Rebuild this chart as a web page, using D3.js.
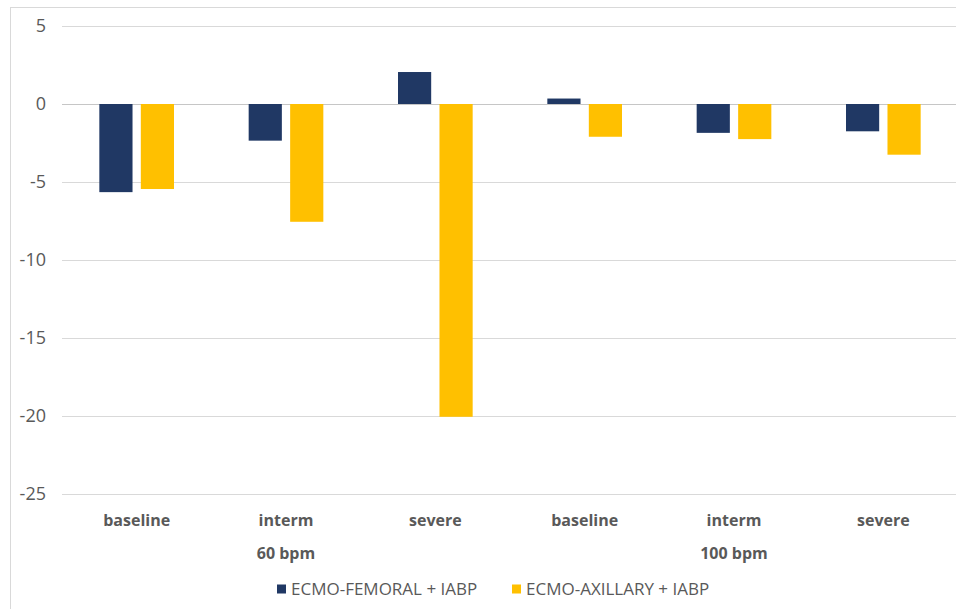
<!DOCTYPE html>
<html>
<head>
<meta charset="utf-8">
<script src="https://cdn.jsdelivr.net/npm/d3@7"></script>
<style>
  body { margin: 0; background: #fff; }
  svg { display: block; }
  text { font-family: "Open Sans", sans-serif; fill: #595959; }
</style>
</head>
<body>
<div id="chart"></div>
<script>
var categories = ["baseline", "interm", "severe", "baseline", "interm", "severe"];
var groups = ["60 bpm", "100 bpm"];
var seriesNames = ["ECMO-FEMORAL + IABP", "ECMO-AXILLARY + IABP"];
var femoral = [-5.65, -2.35, 2.05, 0.35, -1.85, -1.75];
var axillary = [-5.45, -7.55, -20.05, -2.1, -2.25, -3.25];
var yTicks = [5, 0, -5, -10, -15, -20, -25];
var colors = ["#203864", "#FFC000"];

var width = 956, height = 609;
var svg = d3.select("#chart").append("svg")
  .attr("width", width)
  .attr("height", height);

// chart frame
svg.append("rect")
  .attr("x", 10.5).attr("y", 7.5)
  .attr("width", 960).attr("height", 620)
  .style("fill", "#fff")
  .style("stroke", "#d9d9d9");

var x0 = d3.scaleBand()
  .domain(d3.range(categories.length))
  .range([62, 958]);

var x1 = d3.scaleBand()
  .domain([0, 1])
  .range([0, x0.bandwidth()])
  .paddingInner(0.2)
  .paddingOuter(0.9);

var y = d3.scaleLinear()
  .domain([-25, 5])
  .range([494, 26]);

// gridlines
svg.append("g").selectAll("line")
  .data(yTicks)
  .enter().append("line")
  .attr("x1", 62).attr("x2", 958)
  .attr("y1", function(d){ return Math.round(y(d)) + 0.5; })
  .attr("y2", function(d){ return Math.round(y(d)) + 0.5; })
  .style("stroke", function(d){ return d === 0 ? "#c6c6c6" : "#d9d9d9"; })
  .style("stroke-width", 1);

// y labels
svg.append("g").selectAll("text")
  .data(yTicks)
  .enter().append("text")
  .attr("x", 46)
  .attr("y", function(d){ return y(d); })
  .attr("dy", "0.35em")
  .attr("text-anchor", "end")
  .style("font-size", "18px")
  .text(function(d){ return d; });

// bars
var series = [femoral, axillary];
series.forEach(function(values, s){
  svg.append("g").selectAll("rect")
    .data(values)
    .enter().append("rect")
    .attr("x", function(d, i){ return x0(i) + x1(s); })
    .attr("width", x1.bandwidth())
    .attr("y", function(d){ return y(Math.max(0, d)); })
    .attr("height", function(d){ return Math.abs(y(d) - y(0)); })
    .style("fill", colors[s]);
});

// category labels
svg.append("g").selectAll("text")
  .data(categories)
  .enter().append("text")
  .attr("x", function(d, i){ return x0(i) + x0.bandwidth() / 2; })
  .attr("y", 526)
  .attr("text-anchor", "middle")
  .style("font-size", "16px")
  .style("font-weight", "bold")
  .text(function(d){ return d; });

// group labels, centred under the three categories of each group
svg.append("g").selectAll("text")
  .data(groups)
  .enter().append("text")
  .attr("x", function(d, i){ return x0(i * 3) + x0.bandwidth() * 1.5; })
  .attr("y", 559)
  .attr("text-anchor", "middle")
  .style("font-size", "16px")
  .style("font-weight", "bold")
  .text(function(d){ return d; });

// legend
var legendX = [277, 512];
var legend = svg.append("g").selectAll("g")
  .data(seriesNames)
  .enter().append("g")
  .attr("transform", function(d, i){ return "translate(" + legendX[i] + ",589)"; });
legend.append("rect")
  .attr("x", 0).attr("y", -4.5)
  .attr("width", 9).attr("height", 9)
  .style("fill", function(d, i){ return colors[i]; });
legend.append("text")
  .attr("x", 14)
  .attr("dy", "0.35em")
  .style("font-size", "17px")
  .text(function(d){ return d; });
</script>
</body>
</html>
